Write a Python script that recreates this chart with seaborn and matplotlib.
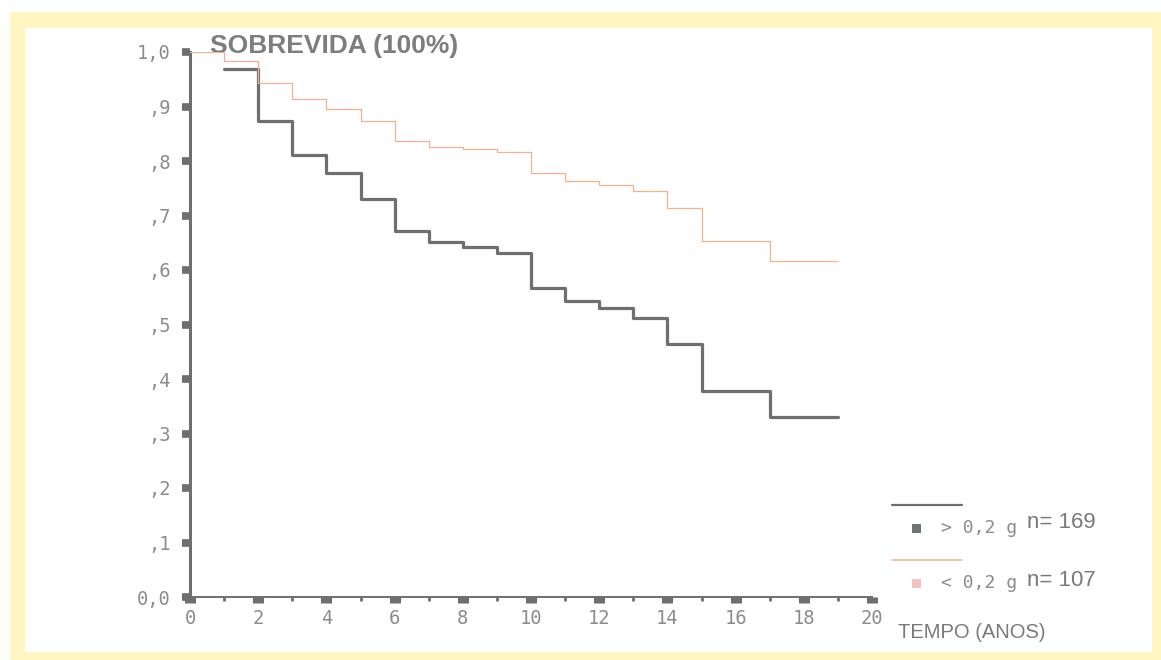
import matplotlib
matplotlib.use("Agg")
import matplotlib.pyplot as plt
from matplotlib.patches import Rectangle
from matplotlib.ticker import MultipleLocator, FixedLocator
import numpy as np
import pandas as pd
import seaborn as sns

# Kaplan-Meier style survival estimates (fraction surviving) by year
anos_maior = [1, 2, 3, 4, 5, 6, 7, 8, 9, 10, 11, 12, 13, 14, 15, 17, 19]
sobrevida_maior = [0.969, 0.873, 0.811, 0.778, 0.730, 0.671, 0.651, 0.642, 0.631,
                   0.567, 0.543, 0.530, 0.512, 0.464, 0.378, 0.330, 0.330]

anos_menor = [0, 1, 2, 3, 4, 5, 6, 7, 8, 9, 10, 11, 12, 13, 14, 15, 17, 19]
sobrevida_menor = [1.0, 0.983, 0.943, 0.914, 0.895, 0.873, 0.837, 0.826, 0.822, 0.817,
                   0.778, 0.763, 0.756, 0.745, 0.714, 0.653, 0.617, 0.617]

y_ticks = [0.0, 0.1, 0.2, 0.3, 0.4, 0.5, 0.6, 0.7, 0.8, 0.9, 1.0]
y_labels = ["0,0", ",1", ",2", ",3", ",4", ",5", ",6", ",7", ",8", ",9", "1,0"]
x_ticks = [0, 2, 4, 6, 8, 10, 12, 14, 16, 18, 20]

grupos = ["> 0,2 g", "< 0,2 g"]
n_grupos = ["n= 169", "n= 107"]

COR_CINZA = "#6f6f6f"
COR_SALMAO = "#f2b28e"
COR_TEXTO = "#7d7d7d"
COR_ROTULO = "#8c8c8c"

sns.set_style("white")
plt.rcParams["font.family"] = ["Liberation Sans", "DejaVu Sans"]

W, H = 1161, 660
fig = plt.figure(figsize=(W / 100, H / 100), dpi=100)
fig.patch.set_facecolor("white")

# pale yellow frame around the white panel
fig.patches.append(Rectangle((10 / W, 0), 1 - 10 / W, 1 - 12 / H,
                             transform=fig.transFigure, facecolor="#fff6c2",
                             edgecolor="none", zorder=0))
fig.patches.append(Rectangle((25 / W, 8 / H), (1152 - 25) / W, (652 - 28) / H,
                             transform=fig.transFigure, facecolor="white",
                             edgecolor="none", zorder=0))

left, right, top, bottom = 190, 872, 52, 597
ax = fig.add_axes([left / W, (H - bottom) / H, (right - left) / W, (bottom - top) / H])
ax.set_facecolor("none")
ax.set_zorder(5)

df_maior = pd.DataFrame({"anos": anos_maior, "sobrevida": sobrevida_maior})
df_menor = pd.DataFrame({"anos": anos_menor, "sobrevida": sobrevida_menor})

sns.lineplot(data=df_maior, x="anos", y="sobrevida", estimator=None, ax=ax,
             color=COR_CINZA, linewidth=2.3, drawstyle="steps-post", zorder=3)
sns.lineplot(data=df_menor, x="anos", y="sobrevida", estimator=None, ax=ax,
             color=COR_SALMAO, linewidth=0.9, drawstyle="steps-post", zorder=4)

ax.set_xlim(0, 20)
ax.set_ylim(0, 1.0)
ax.set_xlabel("")
ax.set_ylabel("")

for side in ["top", "right"]:
    ax.spines[side].set_visible(False)
ax.spines["left"].set_color(COR_CINZA)
ax.spines["left"].set_linewidth(2.2)
ax.spines["bottom"].set_color(COR_CINZA)
ax.spines["bottom"].set_linewidth(1.4)

ax.yaxis.set_major_locator(FixedLocator(y_ticks))
ax.set_yticklabels(y_labels)
ax.xaxis.set_major_locator(FixedLocator(x_ticks))
ax.set_xticklabels([str(v) for v in x_ticks])
ax.xaxis.set_minor_locator(MultipleLocator(1))

ax.tick_params(axis="y", which="major", direction="out", length=6, width=5.5,
               color=COR_CINZA, pad=8, left=True, labelsize=13.5,
               labelcolor=COR_ROTULO, labelfontfamily="DejaVu Sans Mono")
ax.tick_params(axis="x", which="major", direction="out", length=4, width=8,
               color=COR_CINZA, pad=5, bottom=True, labelsize=13.5,
               labelcolor=COR_ROTULO, labelfontfamily="DejaVu Sans Mono")
ax.tick_params(axis="x", which="minor", direction="out", length=3, width=2,
               color=COR_CINZA, bottom=True)

# title
fig.text(210 / W, 1 - 46 / H, "SOBREVIDA (100%)", fontsize=19, fontweight="bold",
         color=COR_TEXTO, ha="left", va="center")

# legend
def fx(px):
    return px / W

def fy(py):
    return 1 - py / H

leg_rows = [(505, 528, 523, COR_CINZA, "#6e7670", 1.6),
            (560, 583, 580, COR_SALMAO, "#f4c2c0", 1.1)]
for (ly, sy, ny, lc, sc, lw), g, n in zip(leg_rows, grupos, n_grupos):
    fig.add_artist(plt.Line2D([fx(892), fx(962)], [fy(ly), fy(ly)],
                              transform=fig.transFigure, color=lc, linewidth=lw))
    fig.patches.append(Rectangle((fx(912), fy(sy + 5)), 9 / W, 9 / H,
                                 transform=fig.transFigure, facecolor=sc,
                                 edgecolor="none"))
    fig.text(fx(941), fy(sy), g, fontsize=13, color=COR_ROTULO,
             family="DejaVu Sans Mono", ha="left", va="center")
    fig.text(fx(1027), fy(ny), n, fontsize=16, color="#7a7a7a",
             ha="left", va="center")

fig.text(fx(898), fy(633), "TEMPO (ANOS)", fontsize=14.5, color="#7a7a7a",
         ha="left", va="center")

fig.savefig("out.png", dpi=100)
